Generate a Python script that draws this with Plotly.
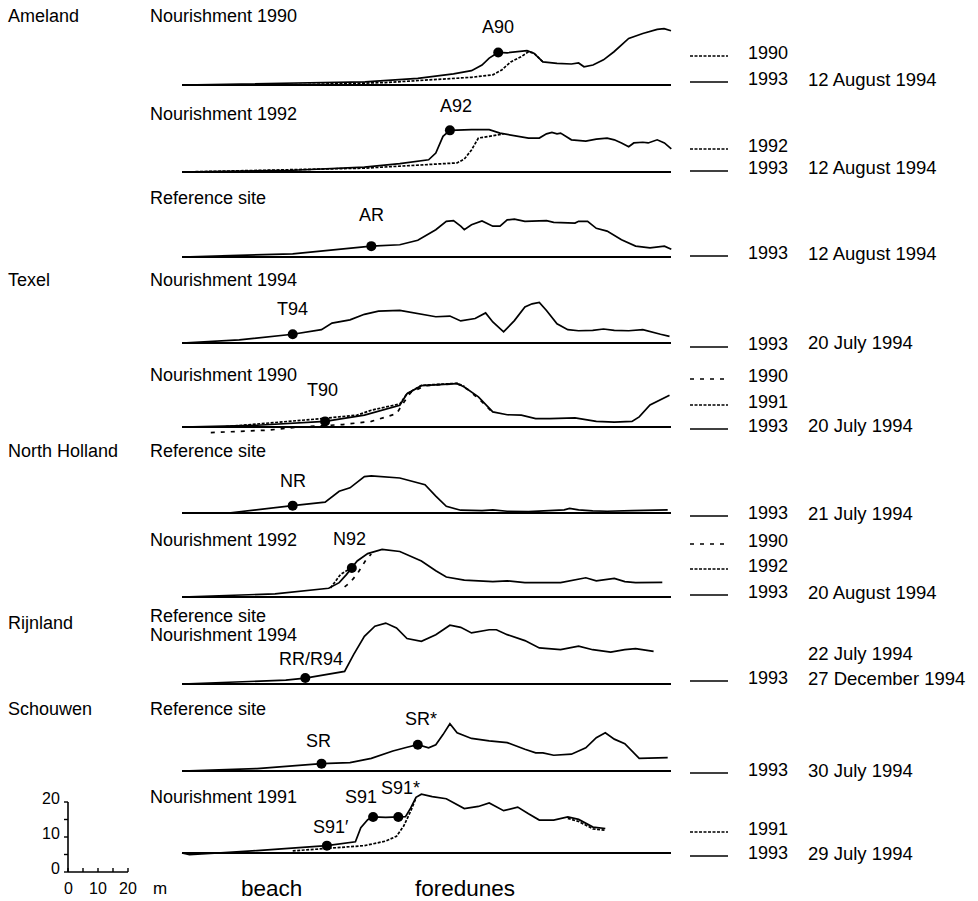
import plotly.graph_objects as go

# ---------------- data: distance along profile (m), height above base level (m) ----------------
BASE_D = [0, 163]

A90_1993_D = [0, 25, 61, 78.6, 90.5, 96.5, 100, 102.4, 105.4, 108.4, 112, 115, 117.3, 120.3, 125, 129.8, 132.2, 134, 137, 140.5, 144, 148.9, 153.6, 158.4, 160.7, 163]
A90_1993_H = [0, 0.3, 0.9, 1.9, 3.2, 4.1, 5.7, 7.7, 9.3, 9.2, 9.5, 9.8, 9.1, 6.6, 6.2, 6.0, 6.3, 5.2, 5.7, 7.2, 9.5, 13.3, 14.7, 15.9, 16.1, 15.5]
A90_1990_D = [0, 40, 67.9, 96.5, 103.6, 106.6, 109.6, 113.1, 115.5, 117.3, 120.3]
A90_1990_H = [0, 0.1, 0.7, 2.2, 2.9, 4.3, 6.6, 8.1, 9.5, 9.1, 6.6]

A92_1993_D = [0, 36.9, 60.8, 72.6, 82.2, 84.6, 87, 89.3, 96.5, 102.4, 106, 110.8, 115.5, 119.1, 121.5, 123.3, 125, 126.2, 129.8, 134.6, 138.1, 141.7, 144.1, 146.5, 148.9, 150.6, 153.6, 155.4, 158.4, 160.8, 163.1]
A92_1993_H = [0, 0.5, 1.4, 2.4, 3.5, 5.4, 10.2, 11.9, 12.1, 12.1, 11.1, 10.4, 9.7, 9.7, 10.9, 11.3, 10.9, 11.1, 9.2, 8.8, 9.4, 9.7, 9.2, 8.3, 7.2, 8.3, 8.5, 8.3, 9.2, 8.3, 6.6]
A92_1992_D = [0, 60.8, 91.7, 94.1, 96.5, 98.8, 102.4, 107.2]
A92_1992_H = [0, 1.1, 2.6, 3.7, 6.3, 9.7, 10.2, 10.9]

AR_1993_D = [0, 36.9, 63.1, 72.6, 78.6, 84.6, 88.1, 90.5, 92.9, 94.1, 96.5, 100, 103.6, 106, 108.4, 110.8, 114.3, 117.9, 121.5, 123.9, 127.4, 131, 132.2, 135.2, 138.1, 141.7, 146.5, 151.2, 156, 160.8, 163.1]
AR_1993_H = [0, 0.9, 3.1, 3.5, 4.8, 7.8, 10.2, 10.4, 8.8, 7.8, 9.2, 10.3, 8.8, 8.8, 10.6, 10.8, 10.2, 10.2, 10.4, 9.9, 9.9, 9.7, 10.2, 10.2, 8.2, 7.4, 4.9, 3.1, 2.6, 3.1, 2.2]

T94_1993_D = [0, 19.1, 36.9, 46.5, 50, 56, 60.8, 65.5, 72.6, 79.8, 84.6, 89.3, 92.9, 97.7, 101.2, 103.6, 107.2, 110.8, 114.3, 116.7, 119.1, 121.5, 125, 128.6, 132.2, 136.9, 140.5, 144.1, 148.9, 153.6, 156, 159.5, 162.5]
T94_1993_H = [0, 0.9, 2.5, 3.8, 5.7, 6.6, 8.2, 9.1, 9.3, 8.3, 7.5, 7.7, 6.3, 7.0, 8.6, 6.0, 3.2, 6.4, 10.3, 11.2, 11.6, 9.3, 5.5, 3.8, 3.5, 3.6, 4.0, 3.6, 3.5, 3.8, 3.2, 2.5, 1.9]

T90_1993_D = [0, 25, 47.7, 60.8, 72.6, 75, 79.8, 84.6, 91.7, 94.1, 98.8, 103.6, 108.4, 113.1, 117.9, 122.6, 131, 138.1, 144.1, 150, 152.4, 156, 162.5]
T90_1993_H = [0, 0.5, 1.6, 3.4, 6.2, 9.5, 11.8, 12.0, 12.4, 11.4, 8.6, 4.3, 3.5, 3.4, 2.4, 2.4, 2.6, 1.6, 1.4, 1.6, 2.9, 6.3, 9.1]
T90_1990_D = [9.6, 28.6, 39.3, 53.6, 63.1, 71.5, 73.9, 76.2, 81, 91.7, 95.3, 100, 103.6]
T90_1990_H = [-1.6, -0.9, 0, 0.7, 1.6, 3.8, 7.0, 9.8, 11.8, 12.4, 10.7, 7.2, 4.1]
T90_1991_D = [13.1, 31, 46.5, 58.4, 63.1, 72.6, 75, 79.8, 91.7, 94.1]
T90_1991_H = [0, 1.2, 2.4, 3.4, 4.8, 6.6, 9.5, 11.9, 12.5, 11.6]

NR_1993_D = [0, 15.5, 36.9, 47.7, 52.4, 56, 60.8, 63.1, 72.6, 77.4, 81, 84.6, 88.1, 92.9, 100, 103.6, 108.4, 115.5, 121.5, 127.4, 129.2, 132.2, 136.9, 141.7, 150, 161.9]
NR_1993_H = [0, 0, 2.1, 3.1, 6.2, 7.2, 10.4, 10.6, 10.0, 8.8, 8.1, 4.8, 1.9, 0.8, 0.7, 0.9, 0.5, 0.4, 0.6, 0.9, 1.3, 0.9, 0.6, 0.5, 0.7, 0.9]

N92_1993_D = [0, 31, 48.9, 52.4, 54.8, 56.6, 58.4, 61.9, 66.7, 72.6, 79.8, 84.6, 88.1, 94.1, 103.6, 108.4, 114.3, 126.2, 131, 134.6, 138.1, 141.7, 144.1, 147.6, 151.2, 160.1]
N92_1993_H = [0, 0.9, 2.5, 4.1, 6.4, 8.3, 10.3, 12.4, 13.6, 13.0, 10.3, 7.5, 5.7, 4.8, 4.4, 4.6, 4.1, 4.1, 4.8, 5.5, 4.6, 4.9, 5.3, 4.4, 4.1, 4.2]
N92_1992_D = [49.5, 51, 52.8, 55, 56.6]
N92_1992_H = [2.6, 4.5, 6.4, 7.6, 8.3]
N92_1990_D = [54.2, 56, 58.4, 60.2, 61.4, 63.1]
N92_1990_H = [2.9, 4.1, 6.6, 9.3, 10.7, 12.3]

RR_1993_D = [0, 34.6, 41.1, 47.7, 54.2, 57.2, 60.8, 64.3, 67.9, 71.5, 75, 79.8, 84.6, 89.3, 92.9, 96.5, 102.4, 104.8, 108.4, 114.3, 119.1, 126.2, 132.2, 136.9, 142.9, 147.6, 151.2, 157.2]
RR_1993_H = [0, 1.1, 1.7, 2.7, 3.6, 8.4, 13.6, 16.5, 17.4, 16.0, 13.0, 12.2, 14.1, 16.8, 16.2, 14.6, 15.5, 15.5, 14.1, 12.4, 10.3, 9.8, 10.8, 9.8, 9.1, 9.8, 10.1, 9.3]

SR_1993_D = [0, 25, 46.5, 56, 63.1, 70.3, 75, 78.6, 82.2, 84.6, 87, 89.3, 91.7, 96.5, 102.4, 108.4, 114.3, 117.9, 120.3, 123.9, 129.8, 134.6, 138.1, 141.1, 144.1, 147.6, 152.4, 156, 161.9]
SR_1993_H = [0, 0.7, 2.1, 2.4, 3.6, 5.7, 6.8, 7.5, 6.6, 7.5, 10.4, 13.5, 10.9, 9.3, 8.6, 8.1, 6.2, 5.2, 5.2, 4.5, 4.8, 6.6, 9.5, 10.9, 9.1, 7.8, 3.6, 3.6, 3.8]

S91_1993_D = [0, 2.5, 25, 48.3, 57.8, 59.6, 61.9, 63.7, 67.9, 72.1, 74.5, 76.2, 78, 79.8, 83.4, 88.1, 94.1, 98.8, 102.4, 107.2, 111.9, 115.5, 119.1, 123.9, 128.6, 132.2, 137, 141.1]
S91_1993_H = [0, -0.5, 0.7, 2.1, 3.2, 7.2, 9.5, 10.3, 10.2, 10.3, 10.4, 12.8, 15.9, 16.8, 16.1, 15.5, 12.7, 13.3, 14.3, 12.1, 13.1, 11.2, 9.4, 9.4, 10.3, 9.6, 7.4, 7.0]
S91_1991_D = [36.9, 48.3, 60.8, 67.9, 71.5, 73.9, 76.2, 78, None, 128.6, 132.2, 137, 141.1]
S91_1991_H = [0.6, 1.4, 2.1, 3.4, 4.8, 7.7, 11.9, 15.7, None, 9.9, 9.0, 6.9, 6.5]

# survey points (label, distance, height)
A90_PTS = [("A90", 105.4, 9.3)]
A92_PTS = [("A92", 89.3, 11.9)]
AR_PTS = [("AR", 63.1, 3.1)]
T94_PTS = [("T94", 36.9, 2.5)]
T90_PTS = [("T90", 47.7, 1.6)]
NR_PTS = [("NR", 36.9, 2.1)]
N92_PTS = [("N92", 56.6, 8.3)]
RR_PTS = [("RR/R94", 41.1, 1.7)]
SR_PTS = [("SR", 46.5, 2.1), ("SR*", 78.6, 7.5)]
S91_PTS = [("S91′", 48.3, 2.1), ("S91", 63.7, 10.3), ("S91*", 72.1, 10.3)]

SCALE_TICKS = [0, 10, 20]

# ---------------- layout constants (pixels) ----------------
W, H = 978, 901
X0, SX, SY = 182.0, 3.0, 3.5
FONT = "Liberation Sans, Arial, Helvetica, sans-serif"
SOLID, FINE, COARSE = "solid", "3px,1.5px", "4px,6px"

# label offsets for survey points (dx, dy in px)
LBL_OFF = {"A90": (0, 25), "A92": (6, 24), "AR": (0, 31), "T94": (0, 25), "T90": (-3, 31),
           "NR": (0, 25), "N92": (-2, 29), "RR/R94": (6, 19), "SR": (-3, 23), "SR*": (3, 26),
           "S91′": (4, 19), "S91": (-12, 20), "S91*": (2, 29)}

panels = [
    dict(base=85, series=[(A90_1990_D, A90_1990_H, FINE), (A90_1993_D, A90_1993_H, SOLID)], pts=A90_PTS,
         leg=[("1990", FINE, 53), ("1993", SOLID, 79)], dates=[("12 August 1994", 79)]),
    dict(base=172, series=[(A92_1992_D, A92_1992_H, FINE), (A92_1993_D, A92_1993_H, SOLID)], pts=A92_PTS,
         leg=[("1992", FINE, 146), ("1993", SOLID, 168)], dates=[("12 August 1994", 168)]),
    dict(base=257, series=[(AR_1993_D, AR_1993_H, SOLID)], pts=AR_PTS,
         leg=[("1993", SOLID, 253)], dates=[("12 August 1994", 253)]),
    dict(base=343, series=[(T94_1993_D, T94_1993_H, SOLID)], pts=T94_PTS,
         leg=[("1993", SOLID, 344)], dates=[("20 July 1994", 343)]),
    dict(base=427, series=[(T90_1990_D, T90_1990_H, COARSE), (T90_1991_D, T90_1991_H, FINE), (T90_1993_D, T90_1993_H, SOLID)], pts=T90_PTS,
         leg=[("1990", COARSE, 376), ("1991", FINE, 402), ("1993", SOLID, 426)], dates=[("20 July 1994", 425)]),
    dict(base=513, series=[(NR_1993_D, NR_1993_H, SOLID)], pts=NR_PTS,
         leg=[("1993", SOLID, 513)], dates=[("21 July 1994", 513)]),
    dict(base=597, series=[(N92_1990_D, N92_1990_H, COARSE), (N92_1992_D, N92_1992_H, FINE), (N92_1993_D, N92_1993_H, SOLID)], pts=N92_PTS,
         leg=[("1990", COARSE, 541), ("1992", FINE, 566), ("1993", SOLID, 592)], dates=[("20 August 1994", 592)]),
    dict(base=684, series=[(RR_1993_D, RR_1993_H, SOLID)], pts=RR_PTS,
         leg=[("1993", SOLID, 678)], dates=[("22 July 1994", 653), ("27 December 1994", 678)]),
    dict(base=771, series=[(SR_1993_D, SR_1993_H, SOLID)], pts=SR_PTS,
         leg=[("1993", SOLID, 770)], dates=[("30 July 1994", 770)]),
    dict(base=853, series=[(S91_1991_D, S91_1991_H, FINE), (S91_1993_D, S91_1993_H, SOLID)], pts=S91_PTS,
         leg=[("1991", FINE, 829), ("1993", SOLID, 853)], dates=[("29 July 1994", 853)]),
]

TITLES = [("Nourishment 1990", 16), ("Nourishment 1992", 114), ("Reference site", 198),
          ("Nourishment 1994", 280), ("Nourishment 1990", 375), ("Reference site", 451),
          ("Nourishment 1992", 540), ("Reference site", 616), ("Nourishment 1994", 635),
          ("Reference site", 709), ("Nourishment 1991", 797)]
REGIONS = [("Ameland", 16), ("Texel", 280), ("North Holland", 451), ("Rijnland", 623), ("Schouwen", 709)]

fig = go.Figure()
ann = []
shapes = []


def px(x):
    return x / W


def py(y):
    return 1 - y / H


def yoff(base):
    return (H - base) / SY


for p in panels:
    off = yoff(p["base"])
    fig.add_trace(go.Scatter(x=BASE_D, y=[off, off], mode="lines",
                             line=dict(color="black", width=1.8), hoverinfo="skip"))
    for d, h, dash in p["series"]:
        yv = [None if v is None else off + v for v in h]
        fig.add_trace(go.Scatter(x=d, y=yv, mode="lines", connectgaps=False,
                                 line=dict(color="black", width=1.7, dash=dash), hoverinfo="skip"))
    for lab, d, h in p["pts"]:
        fig.add_trace(go.Scatter(x=[d], y=[off + h], mode="markers",
                                 marker=dict(size=10, color="black"), hoverinfo="skip"))
        dx, dy = LBL_OFF[lab]
        ann.append(dict(x=d, y=off + h, xref="x", yref="y", text=lab, showarrow=False,
                        xshift=dx, yshift=dy, xanchor="center", yanchor="middle",
                        font=dict(family=FONT, size=18, color="black")))
    for yr, dash, ty in p["leg"]:
        shapes.append(dict(type="line", xref="paper", yref="paper", x0=px(690), x1=px(728),
                           y0=py(ty + 3), y1=py(ty + 3), line=dict(color="black", width=1.6, dash=dash)))
        ann.append(dict(x=px(746), y=py(ty), xref="paper", yref="paper", text=yr, showarrow=False,
                        xanchor="left", yanchor="middle", font=dict(family=FONT, size=18, color="black")))
    for txt, ty in p["dates"]:
        ann.append(dict(x=px(806), y=py(ty), xref="paper", yref="paper", text=txt, showarrow=False,
                        xanchor="left", yanchor="middle", font=dict(family=FONT, size=18.5, color="black")))

for txt, ty in TITLES:
    ann.append(dict(x=px(148), y=py(ty), xref="paper", yref="paper", text=txt, showarrow=False,
                    xanchor="left", yanchor="middle", font=dict(family=FONT, size=18, color="black")))
for txt, ty in REGIONS:
    ann.append(dict(x=px(6), y=py(ty), xref="paper", yref="paper", text=txt, showarrow=False,
                    xanchor="left", yanchor="middle", font=dict(family=FONT, size=18, color="black")))

# scale bar (in metres, drawn through the data axes)
SB_X = (68 - X0) / SX
SB_Y = yoff(872)
shapes.append(dict(type="line", xref="x", yref="y", x0=SB_X, x1=SB_X, y0=SB_Y, y1=SB_Y + 20,
                   line=dict(color="black", width=1.6)))
shapes.append(dict(type="line", xref="x", yref="y", x0=SB_X, x1=SB_X + 20, y0=SB_Y, y1=SB_Y,
                   line=dict(color="black", width=1.6)))
for t in range(0, 25, 5):
    shapes.append(dict(type="line", xref="x", yref="y", x0=SB_X + t, x1=SB_X + t, y0=SB_Y, y1=SB_Y + 4 / SY,
                       line=dict(color="black", width=1.4)))
    shapes.append(dict(type="line", xref="x", yref="y", x0=SB_X - 4 / SX, x1=SB_X, y0=SB_Y + t, y1=SB_Y + t,
                       line=dict(color="black", width=1.4)))
for t in SCALE_TICKS:
    ann.append(dict(x=SB_X, y=SB_Y + t, xref="x", yref="y", text=str(t), showarrow=False,
                    xanchor="right", yanchor="middle", xshift=-6, yshift=4,
                    font=dict(family=FONT, size=16, color="black")))
    ann.append(dict(x=SB_X + t, y=SB_Y, xref="x", yref="y", text=str(t), showarrow=False,
                    xanchor="center", yanchor="middle", yshift=-16,
                    font=dict(family=FONT, size=16, color="black")))
ann.append(dict(x=SB_X + 20, y=SB_Y, xref="x", yref="y", text="m", showarrow=False,
                xanchor="center", yanchor="middle", xshift=32, yshift=-16,
                font=dict(family=FONT, size=17, color="black")))
ann.append(dict(x=px(271), y=py(888), xref="paper", yref="paper", text="beach", showarrow=False,
                xanchor="center", yanchor="middle", font=dict(family=FONT, size=22.5, color="black")))
ann.append(dict(x=px(465), y=py(888), xref="paper", yref="paper", text="foredunes", showarrow=False,
                xanchor="center", yanchor="middle", font=dict(family=FONT, size=22.5, color="black")))

fig.update_layout(
    width=W, height=H, margin=dict(l=0, r=0, t=0, b=0),
    paper_bgcolor="white", plot_bgcolor="white", showlegend=False,
    xaxis=dict(range=[-X0 / SX, (W - X0) / SX], visible=False, fixedrange=True),
    yaxis=dict(range=[0, H / SY], visible=False, fixedrange=True),
    annotations=ann, shapes=shapes,
)

fig.write_html("out.html", config={"displayModeBar": False},
               post_script="document.body.style.margin='0px';document.body.style.overflow='hidden';")
